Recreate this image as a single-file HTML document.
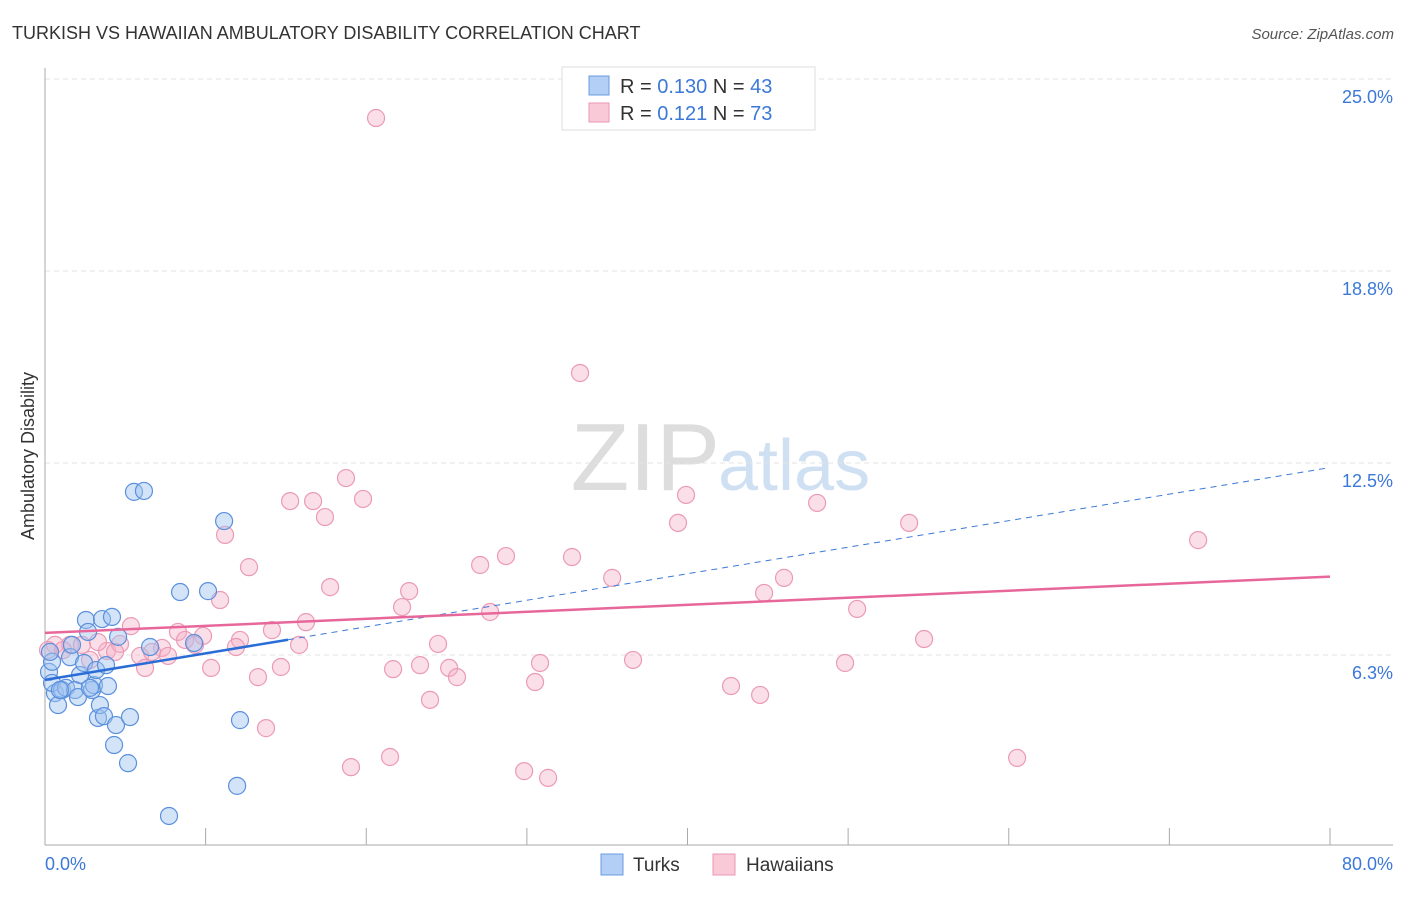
<!DOCTYPE html>
<html><head><meta charset="utf-8"><style>
body{margin:0;background:#fff;font-family:"Liberation Sans",sans-serif}
svg text{font-family:"Liberation Sans",sans-serif}
</style></head><body>
<svg width="1406" height="892" xmlns="http://www.w3.org/2000/svg" id="chart">
<text x="12" y="39" font-size="18" fill="#333">TURKISH VS HAWAIIAN AMBULATORY DISABILITY CORRELATION CHART</text>
<text x="1394" y="39" font-size="15" fill="#555" font-style="italic" text-anchor="end">Source: ZipAtlas.com</text>
<text x="720" y="490" font-size="96" fill="#ddd" font-family="Liberation Serif" text-anchor="end">ZIP</text>
<text x="718" y="490" font-size="72" fill="#cfe0f3">atlas</text>
<text transform="translate(34,456) rotate(-90)" font-size="18" fill="#333" text-anchor="middle">Ambulatory Disability</text>
<g id="grid"></g><g id="axes"></g><g id="pts"></g><g id="lines"></g>
<g>
<rect x="562" y="67" width="253" height="63" fill="#fff" stroke="#ddd"/>
<rect x="589" y="76" width="20" height="19" fill="#b3cff5" stroke="#6a9be0"/>
<rect x="589" y="103" width="20" height="19" fill="#f9c9d8" stroke="#eb97b3"/>
<text x="620" y="93" font-size="20" fill="#333">R = <tspan fill="#3b78d8">0.130</tspan>   N = <tspan fill="#3b78d8">43</tspan></text>
<text x="620" y="120" font-size="20" fill="#333">R =  <tspan fill="#3b78d8">0.121</tspan>   N = <tspan fill="#3b78d8">73</tspan></text>
</g>
<g>
<rect x="601" y="854" width="22" height="21" fill="#b3cff5" stroke="#6a9be0"/>
<text x="633" y="871" font-size="19" fill="#333">Turks</text>
<rect x="713" y="854" width="22" height="21" fill="#f9c9d8" stroke="#eb97b3"/>
<text x="746" y="871" font-size="19" fill="#333">Hawaiians</text>
</g>
</svg>
<script>
const yTicks=[25.0,18.8,12.5,6.3];
const yTickVals=[25,18.75,12.5,6.25];
const xTickLabels=["0.0%","80.0%"];
const turksX=[0.25,0.44,0.31,0.62,0.81,0.44,1.06,1.31,1.56,1.68,1.87,2.05,2.18,2.43,2.55,2.68,2.93,3.05,3.18,3.30,3.42,3.55,3.67,3.80,3.92,4.17,4.30,4.42,4.55,5.17,5.29,5.54,6.16,6.54,8.41,9.28,10.15,11.15,12.14,11.96,7.72,0.93,2.80];
const turksY=[5.70,6.03,6.35,5.01,4.62,5.34,5.11,5.18,6.18,6.58,5.11,4.88,5.60,5.99,7.39,7.00,5.11,5.27,5.76,4.20,4.62,7.42,4.26,5.92,5.24,7.49,3.32,3.97,6.84,2.73,4.23,11.56,11.59,6.51,8.30,6.64,8.33,10.61,4.13,1.99,1.01,5.11,5.18];
const hawX=[20.61,33.31,18.74,15.26,16.69,19.80,17.43,39.91,48.07,39.41,53.80,11.21,71.79,12.70,28.70,27.09,32.81,17.75,22.67,35.31,46.01,10.90,22.23,27.71,44.77,50.56,16.25,5.35,8.28,9.84,14.13,12.14,8.72,54.73,24.47,15.82,7.29,11.89,3.86,4.67,1.56,2.30,3.30,0.62,0.19,5.92,7.66,6.23,10.34,14.69,21.67,23.35,25.16,30.82,36.61,49.81,13.26,25.65,30.51,42.71,44.52,23.97,13.76,21.48,19.05,29.83,31.32,60.52,1.12,4.36,9.34,6.66,2.80];
const hawY=[23.73,15.43,12.01,11.26,11.26,11.33,10.74,11.46,11.20,10.55,10.55,10.16,9.99,9.11,9.47,9.18,9.44,8.46,8.33,8.76,8.76,8.04,7.81,7.65,8.27,7.75,7.32,7.19,7.00,6.87,7.06,6.74,6.74,6.77,6.61,6.58,6.48,6.51,6.38,6.61,6.58,6.58,6.67,6.58,6.41,6.22,6.22,5.83,5.83,5.86,5.79,5.92,5.83,5.99,6.09,5.99,5.53,5.53,5.37,5.24,4.95,4.79,3.87,2.93,2.60,2.47,2.25,2.90,6.41,6.35,6.58,6.35,6.09];
const turksTrend=[5.44,12.35]; const turksSolidEnd=15.13;
const hawTrend=[6.97,8.80];
const NS="http://www.w3.org/2000/svg";
const X=v=>45+v*1285/80, Y=v=>655-(v-6.25)*192/6.25;
function mk(t,a,p){const e=document.createElementNS(NS,t);for(const k in a)e.setAttribute(k,a[k]);document.getElementById(p).appendChild(e);return e;}
yTickVals.forEach((v,i)=>{
 const g=mk('line',{x1:45,x2:1393,y1:Y(v),y2:Y(v),stroke:'#e3e3e3','stroke-dasharray':'5,4'},'grid');
 
 
 const t=mk('text',{x:1393,y:Y(v)+24,'font-size':18,fill:'#3b78d8','text-anchor':'end'},'axes');
 t.textContent=yTicks[i].toFixed(1)+'%';
 
 
});
const ya=mk('line',{x1:45,x2:45,y1:68,y2:845,stroke:'#aaa'},'axes');


const xa=mk('line',{x1:45,x2:1393,y1:845,y2:845,stroke:'#aaa'},'axes');


for(let v=10;v<=80;v+=10){
 const tk=mk('line',{x1:X(v),x2:X(v),y1:828,y2:845,stroke:'#aaa'},'axes');
 
 
}
const xl0=mk('text',{x:45,y:870,'font-size':18,fill:'#3b78d8'},'axes');xl0.textContent=xTickLabels[0];


const xl1=mk('text',{x:1393,y:870,'font-size':18,fill:'#3b78d8','text-anchor':'end'},'axes');xl1.textContent=xTickLabels[1];


hawX.forEach((x,i)=>{
 const c=mk('circle',{cx:X(x),cy:Y(hawY[i]),r:8.5,fill:'rgba(246,176,198,0.4)',stroke:'#eb9ab5','stroke-width':1.2},'pts');
 
 
});
turksX.forEach((x,i)=>{
 const c=mk('circle',{cx:X(x),cy:Y(turksY[i]),r:8.5,fill:'rgba(160,195,240,0.45)',stroke:'#5b90dd','stroke-width':1.2},'pts');
 
 
});
const ty=x=>turksTrend[0]+(turksTrend[1]-turksTrend[0])*x/80;
const l1=mk('line',{x1:X(turksSolidEnd),y1:Y(ty(turksSolidEnd)),x2:X(80),y2:Y(ty(80)),stroke:'#3b78d8','stroke-width':1,'stroke-dasharray':'6,5'},'lines');


const l2=mk('line',{x1:X(0),y1:Y(ty(0)),x2:X(turksSolidEnd),y2:Y(ty(turksSolidEnd)),stroke:'#2a6dd6','stroke-width':2.5},'lines');


const l3=mk('line',{x1:X(0),y1:Y(hawTrend[0]),x2:X(80),y2:Y(hawTrend[1]),stroke:'#e8679a','stroke-width':2.5},'lines');


</script>
</body></html>
